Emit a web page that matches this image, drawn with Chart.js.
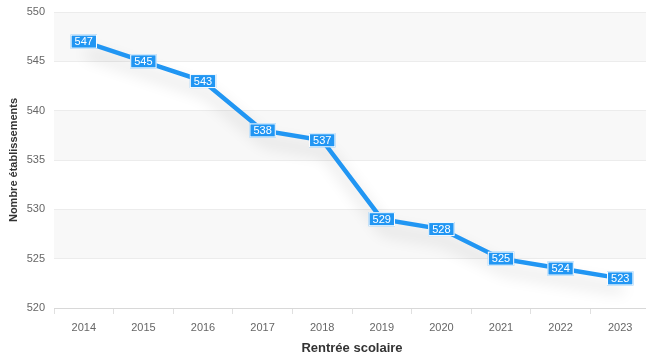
<!DOCTYPE html>
<html>
<head>
<meta charset="utf-8">
<script src="https://cdn.jsdelivr.net/npm/chart.js@4"></script>
<style>
  html, body { margin: 0; padding: 0; background: #fff; overflow: hidden; }
  #wrap { width: 650px; height: 356px; }
</style>
</head>
<body>
<div id="wrap"><canvas id="chart"></canvas></div>
<script>
const years = ["2014", "2015", "2016", "2017", "2018", "2019", "2020", "2021", "2022", "2023"];
const etablissements = [547, 545, 543, 538, 537, 529, 528, 525, 524, 523];
const yMin = 520, yMax = 550, yStep = 5;

const BLUE = "#2196f3";
const FONT = "'Liberation Sans', Arial, sans-serif";

// bandes grises alternées
const bandsPlugin = {
  id: "bands",
  beforeDraw(chart) {
    const { ctx, chartArea, scales } = chart;
    ctx.save();
    ctx.fillStyle = "#f8f8f8";
    for (let v = yMax; v > yMin; v -= yStep * 2) {
      const top = scales.y.getPixelForValue(v);
      const bot = scales.y.getPixelForValue(v - yStep);
      ctx.fillRect(chartArea.left, top, chartArea.right - chartArea.left, bot - top);
    }
    ctx.restore();
  }
};

// ombre sous la ligne
const shadowPlugin = {
  id: "lineShadow",
  beforeDatasetDraw(chart) {
    const ctx = chart.ctx;
    ctx.save();
    ctx.shadowColor = "rgba(0,0,0,0.2)";
    ctx.shadowBlur = 16;
    ctx.shadowOffsetX = 3;
    ctx.shadowOffsetY = 11;
  },
  afterDatasetDraw(chart) {
    chart.ctx.restore();
  }
};

// étiquettes de valeur
const labelsPlugin = {
  id: "valueLabels",
  afterDatasetsDraw(chart) {
    const ctx = chart.ctx;
    const meta = chart.getDatasetMeta(0);
    ctx.save();
    ctx.font = "11px " + FONT;
    ctx.textAlign = "center";
    ctx.textBaseline = "middle";
    meta.data.forEach((pt, i) => {
      const txt = String(chart.data.datasets[0].data[i]);
      const w = ctx.measureText(txt).width + 8;
      const h = 14;
      ctx.fillStyle = BLUE;
      ctx.fillRect(pt.x - w / 2, pt.y - h / 2, w, h);
      ctx.strokeStyle = "#ffffff";
      ctx.lineWidth = 1;
      ctx.strokeRect(pt.x - w / 2 + 0.5, pt.y - h / 2 + 0.5, w - 1, h - 1);
      ctx.fillStyle = "#ffffff";
      ctx.fillText(txt, pt.x, pt.y + 0.5);
    });
    ctx.restore();
  }
};

new Chart(document.getElementById("chart"), {
  type: "line",
  data: {
    labels: years,
    datasets: [{
      data: etablissements,
      borderColor: BLUE,
      borderWidth: 4.5,
      pointRadius: 0,
      tension: 0,
      fill: false
    }]
  },
  options: {
    responsive: true,
    maintainAspectRatio: false,
    animation: false,
    layout: { padding: { top: 12, right: 0, left: 0, bottom: 0 } },
    plugins: {
      legend: { display: false },
      tooltip: { enabled: false }
    },
    scales: {
      x: {
        offset: true,
        afterFit: (s) => { s.height = 48; },
        grid: {
          offset: true,
          drawOnChartArea: false,
          drawTicks: true,
          tickLength: 6,
          color: "#e0e0e0"
        },
        border: { color: "#d8d8d8" },
        ticks: {
          color: "#666",
          font: { size: 11, family: FONT },
          padding: 7,
          maxRotation: 0
        },
        title: {
          display: true,
          text: "Rentrée scolaire",
          color: "#333",
          font: { size: 13, weight: "bold", family: FONT },
          padding: { top: 0, bottom: 0 }
        }
      },
      y: {
        min: yMin,
        max: yMax,
        afterFit: (s) => { s.width = 54; s.paddingTop = 0; s.paddingBottom = 0; },
        ticks: {
          stepSize: yStep,
          color: "#666",
          font: { size: 11, family: FONT },
          padding: 9
        },
        grid: {
          color: "#ececec",
          drawTicks: false
        },
        border: { display: false },
        title: {
          display: true,
          text: "Nombre établissements",
          color: "#333",
          font: { size: 11, weight: "bold", family: FONT },
          padding: { top: 7, bottom: 0 }
        }
      }
    }
  },
  plugins: [bandsPlugin, shadowPlugin, labelsPlugin]
});
</script>
</body>
</html>
